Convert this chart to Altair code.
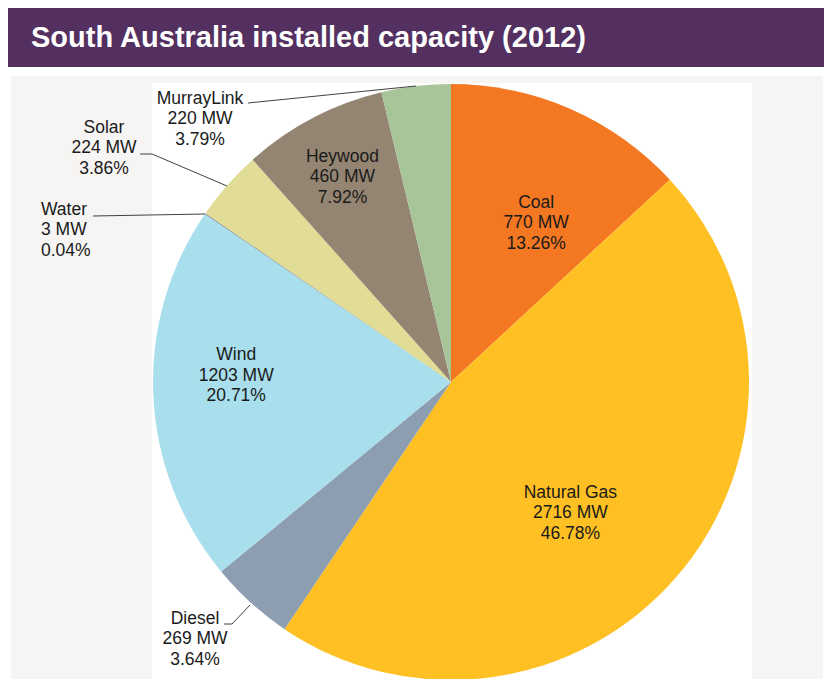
import altair as alt
import pandas as pd

# ---------------- data ----------------
sources = ["Coal", "Natural Gas", "Diesel", "Wind", "Water", "Solar", "Heywood", "MurrayLink"]
capacity_mw = [770, 2716, 269, 1203, 3, 224, 460, 220]
share_pct = [13.26, 46.78, 3.64, 20.71, 0.04, 3.86, 7.92, 3.79]
title_text = "South Australia installed capacity (2012)"

# ---------------- styles / layout ----------------
slice_colors = ["#F47721", "#FFC024", "#8D9EB0", "#A9DEED", "#7F7F7F", "#E1DD97", "#938572", "#A8C59A"]
FONT = "Liberation Sans"
TEXT_COLOR = "#1a1a1a"
FS, LH = 17.5, 20.5
W, H = 816, 671
CX, CY, R = 443, 374, 298

# in-slice labels: distance from the centre along the slice's mid angle, plus a small nudge
inner_label_radius = {"Coal": 180, "Natural Gas": 177, "Wind": 215, "Heywood": 232}
inner_label_nudge = {"Coal": (13, 6), "Natural Gas": (-15, 16), "Wind": (0, -16), "Heywood": (-1, 1)}
# callout labels (centre of the middle line)
callout_anchor = {"MurrayLink": (192, 111), "Solar": (96, 140), "Diesel": (187, 631)}
water_anchor = (33, 222)
leader_paths = {
    "MurrayLink": [(240, 95), (408, 78)],
    "Solar": [(132, 146), (144, 146), (219, 178)],
    "Water": [(85, 208), (197, 206)],
    "Diesel": [(216, 616), (224, 616), (242, 597)],
}

# ---------------- tables ----------------
df = pd.DataFrame({
    "source": sources,
    "mw": capacity_mw,
    "pct": share_pct,
    "idx": list(range(len(sources))),
})
df["label"] = [f"{s}\n{m} MW\n{p:.2f}%" for s, m, p in zip(sources, capacity_mw, share_pct)]
df["lr"] = [inner_label_radius.get(s, 0) for s in sources]
df["ldx"] = [inner_label_nudge.get(s, (0, 0))[0] for s in sources]
df["ldy"] = [inner_label_nudge.get(s, (0, 0))[1] for s in sources]

call_rows = []
water_row = None
for s, lab in zip(sources, df["label"]):
    if s in callout_anchor:
        call_rows.append({"source": s, "label": lab, "cx": callout_anchor[s][0], "cy": callout_anchor[s][1]})
    if s == "Water":
        water_row = {"source": s, "label": lab, "cx": water_anchor[0], "cy": water_anchor[1]}
df_call = pd.DataFrame(call_rows)
df_water = pd.DataFrame([water_row])

line_rows = []
for s, pts in leader_paths.items():
    for k, (lx, ly) in enumerate(pts):
        line_rows.append({"source": s, "k": k, "lx": lx, "ly": ly})
df_lines = pd.DataFrame(line_rows)

one = pd.DataFrame({"k": [0]})


def rect(x1, x2, y1, y2, color):
    return alt.Chart(one).mark_rect(color=color).encode(
        x=alt.value(x1), x2=alt.value(x2), y=alt.value(y1), y2=alt.value(y2)
    )


bg_purple = rect(0, W, 0, 59, "#53305F")
bg_gray = rect(3, 815, 68, H, "#F6F5F4")
bg_white = rect(144, 744, 75, H, "#FFFFFF")

title = alt.Chart(one).mark_text(
    font=FONT, fontSize=29, fontWeight="bold", color="white",
    align="left", baseline="alphabetic"
).encode(x=alt.value(23), y=alt.value(39), text=alt.value(title_text))

pie = alt.Chart(df).mark_arc(outerRadius=R).encode(
    theta=alt.Theta("mw:Q", stack=True),
    color=alt.Color("source:N", scale=alt.Scale(domain=sources, range=slice_colors), legend=None),
    order=alt.Order("idx:Q", sort="ascending"),
    x=alt.value(CX),
    y=alt.value(CY),
)

text_style = dict(font=FONT, fontSize=FS, lineBreak="\n", lineHeight=LH,
                  baseline="middle", color=TEXT_COLOR, dy=-LH)

inner = alt.Chart(df).transform_window(
    cum="sum(mw)", sort=[alt.SortField("idx", order="ascending")], frame=[None, 0]
).transform_joinaggregate(
    total="sum(mw)"
).transform_calculate(
    ang="2 * PI * (datum.cum - datum.mw / 2) / datum.total",
    px=f"{CX} + datum.lr * sin(datum.ang) + datum.ldx",
    py=f"{CY} - datum.lr * cos(datum.ang) + datum.ldy",
).transform_filter(
    "datum.lr > 0"
).mark_text(align="center", **text_style).encode(
    x=alt.X("px:Q", scale=None, axis=None),
    y=alt.Y("py:Q", scale=None, axis=None),
    text="label:N",
)

leaders = alt.Chart(df_lines).mark_line(color="#404040", strokeWidth=1).encode(
    x=alt.X("lx:Q", scale=None, axis=None),
    y=alt.Y("ly:Q", scale=None, axis=None),
    detail="source:N",
    order="k:Q",
)

callouts = alt.Chart(df_call).mark_text(align="center", **text_style).encode(
    x=alt.X("cx:Q", scale=None, axis=None),
    y=alt.Y("cy:Q", scale=None, axis=None),
    text="label:N",
)

water = alt.Chart(df_water).mark_text(align="left", **text_style).encode(
    x=alt.X("cx:Q", scale=None, axis=None),
    y=alt.Y("cy:Q", scale=None, axis=None),
    text="label:N",
)

chart = alt.layer(
    bg_purple, bg_gray, bg_white, title, pie, inner, leaders, callouts, water
).properties(
    width=W, height=H, padding=0, autosize="none", background="white"
).configure_view(stroke=None)

chart.save("out.html", embed_options={"renderer": "svg", "actions": False})
